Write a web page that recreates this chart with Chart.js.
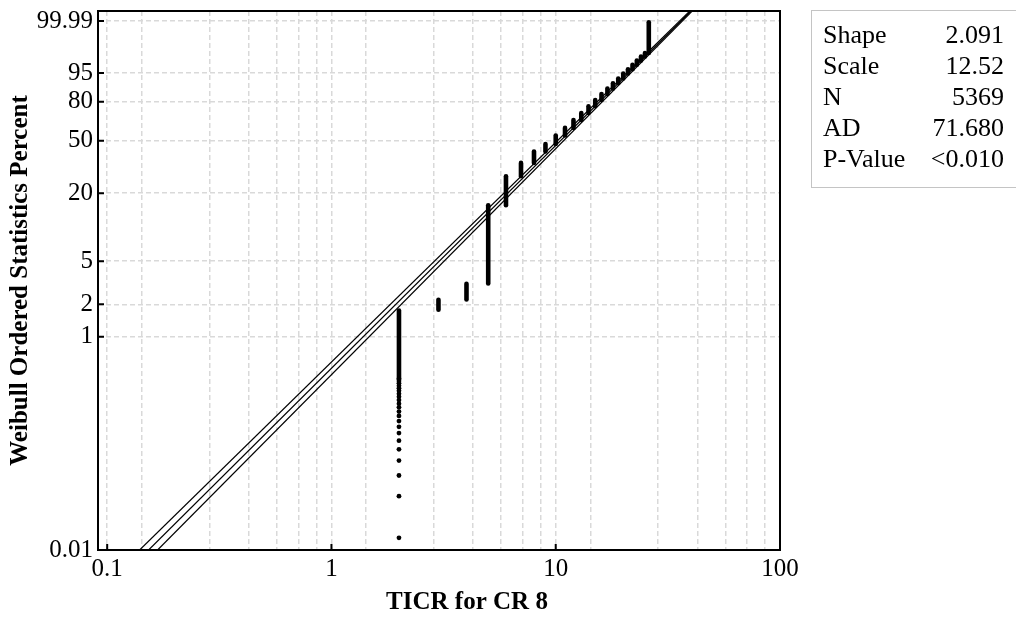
<!DOCTYPE html>
<html>
<head>
<meta charset="utf-8">
<script src="https://cdn.jsdelivr.net/npm/chart.js@4.4.0/dist/chart.umd.min.js"></script>
<style>
  body { margin: 0; background: #fff; }
  #wrap { position: relative; width: 1016px; height: 618px; }
  #stats {
    position: absolute; left: 811px; top: 10px; width: 215px; height: 178px;
    border: 1px solid #c4c4c4; box-sizing: border-box;
    font-family: "Liberation Serif", serif; font-size: 26px; color: #000;
  }
  #stats table { position: absolute; left: 11px; top: 8px; width: 181px; border-collapse: collapse; }
  #stats td { padding: 0; line-height: 31px; white-space: nowrap; }
  #stats td.v { text-align: right; }
</style>
</head>
<body>
<div id="wrap">
  <canvas id="chart" width="1016" height="618"></canvas>
  <div id="stats"><table id="statTable"></table></div>
</div>
<script>
// values (percent = Weibull ordered statistics percent)
const ticrValues = [2, 3, 4, 5, 6, 7, 8, 9, 10, 11, 12, 13, 14, 15, 16, 17, 18, 19, 20, 21, 22, 23, 24, 25, 26];
const colLowPct  = [0.40, 1.78, 2.22, 3.12, 15.8, 27.5, 34.9, 42.2, 47.6, 54.0, 59.9, 66.1, 71.7, 76.8, 81.2, 85.0, 88.2, 90.9, 93.0, 94.8, 96.1, 97.2, 98.0, 98.6, 99.0];
const colHighPct = [1.75, 2.20, 3.10, 15.8, 27.5, 34.9, 42.2, 47.6, 54.0, 59.9, 66.1, 71.7, 76.8, 81.2, 85.0, 88.2, 90.9, 93.0, 94.8, 96.1, 97.2, 98.0, 98.6, 99.0, 99.987];

// the single points at the foot of the TICR = 2 column
const sparseX = 2;
const sparsePct = [0.013, 0.032, 0.050, 0.069, 0.088, 0.106, 0.125, 0.143, 0.162, 0.181, 0.199, 0.218,
                   0.236, 0.255, 0.274, 0.292, 0.311, 0.329, 0.348, 0.367, 0.385, 0.404];

// fitted line and its two bounds (end points)
const lineEndPct = [0.01, 99.9989];
const fitLineX   = [0.153, 40.1];
const lowLineX   = [0.1395, 39.6];
const highLineX  = [0.1678, 40.6];

const yTickPct  = [0.01, 1, 2, 5, 20, 50, 80, 95, 99.99];
const yTickText = ['0.01', '1', '2', '5', '20', '50', '80', '95', '99.99'];
const xTickLabels = [0.1, 1, 10, 100];
const xTitle = 'TICR for CR 8';

const statNames  = ['Shape', 'Scale', 'N', 'AD', 'P-Value'];
const statValues = ['2.091', '12.52', '5369', '71.680', '<0.010'];

// Weibull probability transform
function wb(p) {
  return Math.log(-Math.log(1 - p / 100));
}

const serif = '"Liberation Serif", "Times New Roman", serif';

// grid lines every 1/7 of a decade, as in the original
const xGrid = [0.1];
[0.1, 1, 10].forEach(function (d) {
  for (let k = 1; k <= 7; k++) xGrid.push(d * 10 * k / 7);
});

const datasets = [];

[fitLineX, lowLineX, highLineX].forEach(function (xs) {
  datasets.push({
    data: xs.map((x, i) => ({ x: x, y: wb(lineEndPct[i]) })),
    showLine: true, pointRadius: 0, borderColor: '#000', borderWidth: 1.2
  });
});

ticrValues.forEach(function (v, i) {
  datasets.push({
    data: [{ x: v, y: wb(colLowPct[i]) }, { x: v, y: wb(colHighPct[i]) }],
    showLine: true, pointRadius: 0, borderColor: '#000', borderWidth: 4.6,
    borderCapStyle: 'round'
  });
});

datasets.push({
  data: sparsePct.map(p => ({ x: sparseX, y: wb(p) })),
  pointRadius: 2.4, backgroundColor: '#000', borderWidth: 0, showLine: false
});

// frame, inward tick marks and the x axis title
const framePlugin = {
  id: 'frame',
  afterDraw(chart) {
    const ctx = chart.ctx;
    const a = chart.chartArea;
    const xs = chart.scales.x, ys = chart.scales.y;
    ctx.save();
    ctx.strokeStyle = '#000';
    ctx.lineWidth = 2;
    ctx.strokeRect(a.left, a.top, a.right - a.left, a.bottom - a.top);
    ctx.beginPath();
    yTickPct.forEach(function (p) {
      const y = ys.getPixelForValue(wb(p));
      ctx.moveTo(a.left, y);
      ctx.lineTo(a.left + 6, y);
    });
    xTickLabels.forEach(function (v) {
      const x = xs.getPixelForValue(v);
      ctx.moveTo(x, a.bottom);
      ctx.lineTo(x, a.bottom - 6);
    });
    ctx.stroke();
    ctx.fillStyle = '#000';
    ctx.font = 'bold 25px ' + serif;
    ctx.textAlign = 'center';
    ctx.textBaseline = 'middle';
    ctx.fillText(xTitle, 467, 603);
    ctx.restore();
  }
};

new Chart(document.getElementById('chart'), {
  type: 'scatter',
  data: { datasets: datasets },
  options: {
    responsive: false,
    animation: false,
    layout: { padding: { left: 0, right: 236, top: 11, bottom: 0 } },
    plugins: { legend: { display: false }, tooltip: { enabled: false } },
    scales: {
      x: {
        type: 'logarithmic',
        min: 0.091,
        max: 100,
        afterBuildTicks: function (scale) {
          scale.ticks = xGrid.map(v => ({ value: v }));
        },
        afterFit: function (scale) {
          scale.height = 68;
          scale.paddingLeft = 0;
          scale.paddingRight = 0;
        },
        ticks: {
          autoSkip: false, maxRotation: 0, padding: 4, color: '#000',
          font: { family: serif, size: 25 },
          callback: function (v) {
            const hit = xTickLabels.find(t => Math.abs(t - v) / t < 1e-6);
            return hit === undefined ? '' : String(hit);
          }
        },
        grid: { color: '#d9d9d9', lineWidth: 1.5, drawTicks: false },
        border: { display: false, dash: [5, 3] }
      },
      y: {
        type: 'linear',
        min: wb(0.01),
        max: 2.436,
        afterBuildTicks: function (scale) {
          scale.ticks = yTickPct.map(p => ({ value: wb(p) }));
        },
        afterFit: function (scale) {
          scale.width = 98;
          scale.paddingTop = 0;
          scale.paddingBottom = 0;
        },
        ticks: {
          autoSkip: false, padding: 5, color: '#000',
          font: { family: serif, size: 25 },
          callback: function (v, i) { return yTickText[i]; }
        },
        grid: { color: '#d9d9d9', lineWidth: 1.5, drawTicks: false },
        border: { display: false, dash: [5, 3] },
        title: {
          display: true, text: 'Weibull Ordered Statistics Percent', color: '#000',
          font: { family: serif, size: 25, weight: 'bold' },
          padding: { top: 6, bottom: 0 }
        }
      }
    }
  },
  plugins: [framePlugin]
});

// stats box
const table = document.getElementById('statTable');
statNames.forEach(function (name, i) {
  const tr = document.createElement('tr');
  tr.innerHTML = '<td>' + name + '</td><td class="v">' + statValues[i] + '</td>';
  table.appendChild(tr);
});
</script>
</body>
</html>
